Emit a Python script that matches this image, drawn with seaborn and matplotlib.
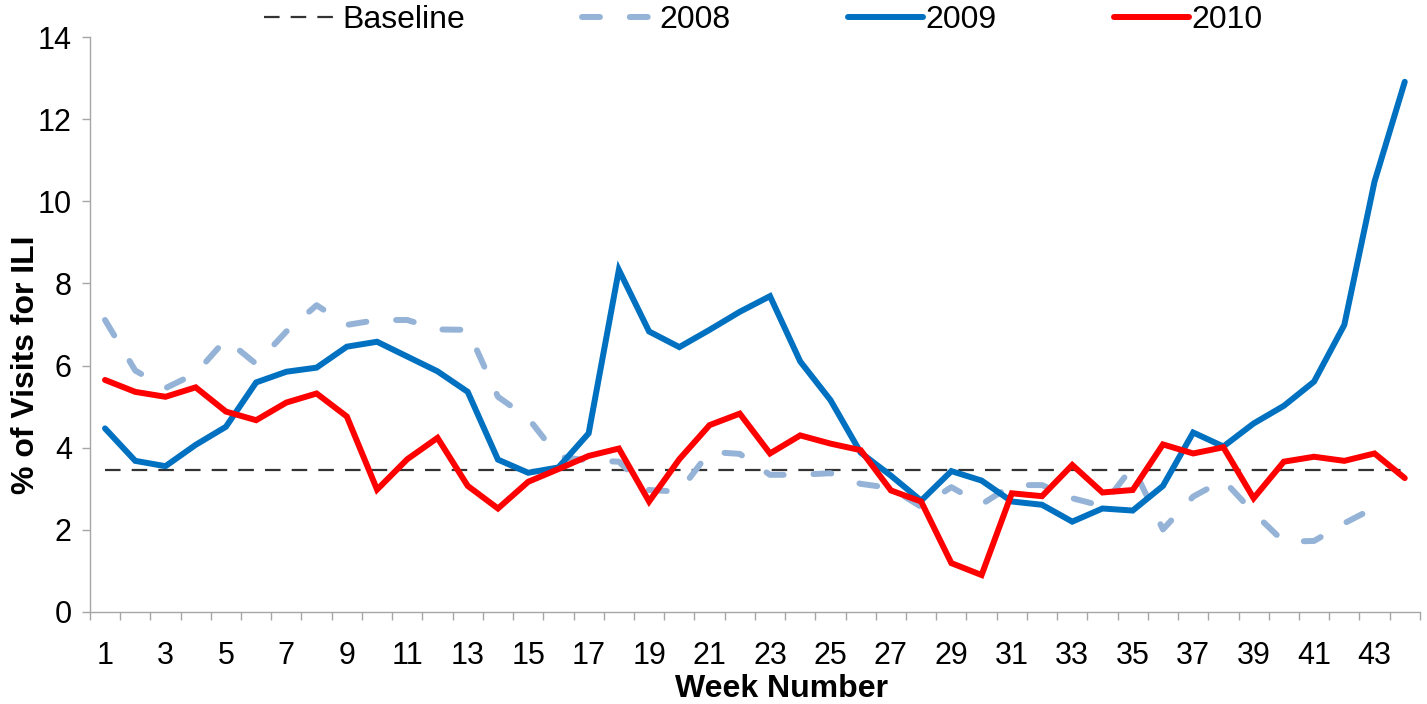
import numpy as np
import pandas as pd
import matplotlib
matplotlib.use('Agg')
import matplotlib.pyplot as plt
import seaborn as sns
from matplotlib.ticker import FixedLocator

# --- data ---
weeks = list(range(1, 45))
baseline = [3.46] * 44
ili_2008 = [7.11, 5.88, 5.45, 5.81, 6.64, 6.04, 6.83, 7.47, 6.99, 7.11,
            7.11, 6.88, 6.87, 5.24, 4.72, 3.78, 3.69, 3.66, 2.97, 2.93,
            3.90, 3.85, 3.34, 3.34, 3.38, 3.12, 3.02, 2.56, 3.04, 2.62,
            3.09, 3.09, 2.77, 2.58, 3.54, 2.01, 2.81, 3.21, 2.42, 1.71,
            1.73, 2.16, 2.54, np.nan]
ili_2009 = [4.47, 3.68, 3.55, 4.07, 4.51, 5.59, 5.85, 5.95, 6.46, 6.58,
            6.22, 5.86, 5.36, 3.71, 3.39, 3.52, 4.35, 8.33, 6.83, 6.45,
            6.87, 7.31, 7.69, 6.10, 5.16, 3.88, 3.32, 2.71, 3.43, 3.20,
            2.69, 2.61, 2.20, 2.52, 2.47, 3.07, 4.37, 4.03, 4.59, 5.02,
            5.61, 6.99, 10.48, 12.91]
ili_2010 = [5.65, 5.36, 5.24, 5.47, 4.88, 4.67, 5.10, 5.32, 4.76, 2.98,
            3.72, 4.24, 3.07, 2.52, 3.17, 3.48, 3.80, 3.98, 2.69, 3.72,
            4.55, 4.83, 3.86, 4.30, 4.10, 3.94, 2.96, 2.69, 1.19, 0.90,
            2.89, 2.82, 3.58, 2.91, 2.97, 4.08, 3.86, 4.01, 2.77, 3.66,
            3.78, 3.68, 3.86, 3.26]
tick_weeks = list(range(1, 44, 2))
y_ticks = list(range(0, 15, 2))

# --- style ---
sns.set_theme(style='white')
plt.rcParams['font.family'] = ['Liberation Sans', 'DejaVu Sans']
plt.rcParams['text.color'] = 'black'
plt.rcParams['axes.labelcolor'] = 'black'
plt.rcParams['xtick.labelcolor'] = 'black'
plt.rcParams['ytick.labelcolor'] = 'black'
axis_grey = '#A6A6A6'
lw = 4.3

fig = plt.figure(figsize=(14.27, 7.04), dpi=100)
ax = fig.add_axes([0.063, 0.1307, 0.932, 0.8167])

# --- lines ---
sns.lineplot(x=weeks, y=baseline, ax=ax, color='#333333', linewidth=1.6, label='Baseline')
ax.lines[-1].set_dashes((7, 5))

sns.lineplot(x=weeks, y=ili_2008, ax=ax, color='#95B3D7', linewidth=lw, label='2008')
ax.lines[-1].set_dashes((3.0, 5.0))
ax.lines[-1].set_dash_capstyle('round')

sns.lineplot(x=weeks, y=ili_2009, ax=ax, color='#0070C0', linewidth=lw, label='2009')
sns.lineplot(x=weeks, y=ili_2010, ax=ax, color='#FF0000', linewidth=lw, label='2010')
for ln in ax.lines:
    ln.set_solid_capstyle('round')
    ln.set_solid_joinstyle('miter')

# --- axes ---
ax.set_xlim(0.5, 44.5)
ax.set_ylim(0, 14)
ax.set_yticks(y_ticks)
ax.xaxis.set_major_locator(FixedLocator(tick_weeks))
ax.xaxis.set_minor_locator(FixedLocator(np.arange(0.5, 45, 1)))
ax.tick_params(axis='x', which='major', length=0, pad=21, labelsize=22)
ax.tick_params(axis='x', which='minor', length=6, width=1, color=axis_grey, direction='out', bottom=True)
ax.tick_params(axis='y', which='major', length=6, width=1, color=axis_grey, direction='out', left=True,
               pad=7, labelsize=22)

sns.despine(ax=ax)
for side in ['left', 'bottom']:
    ax.spines[side].set_color(axis_grey)
    ax.spines[side].set_linewidth(1)

ax.set_xlabel('Week Number', fontsize=23, fontweight='bold')
ax.set_ylabel('% of Visits for ILI', fontsize=23, fontweight='bold')
ax.xaxis.set_label_coords(0.52, -0.108)
ax.yaxis.set_label_coords(-0.037, 0.43)

handles, labels = ax.get_legend_handles_labels()
ax.legend(handles, labels, loc='center', bbox_to_anchor=(0.535, 0.971), bbox_transform=fig.transFigure,
          ncol=4, frameon=False, fontsize=23, handlelength=2.35, handletextpad=0.1, columnspacing=3.65)

plt.savefig('out.png', dpi=100)
